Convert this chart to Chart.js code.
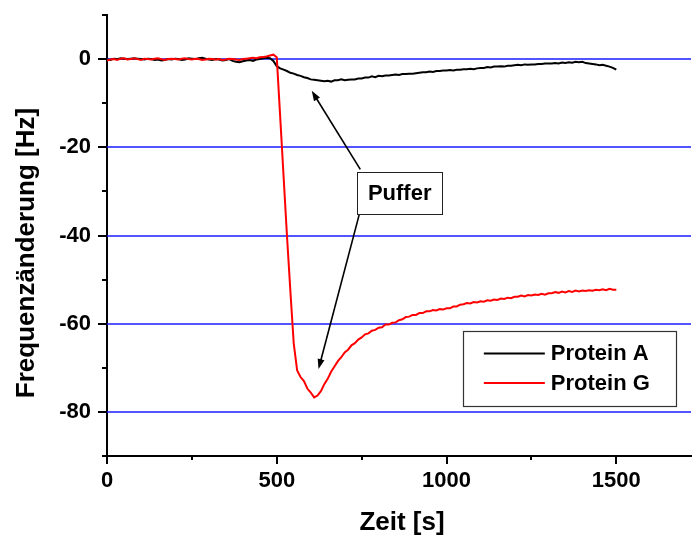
<!DOCTYPE html>
<html>
<head>
<meta charset="utf-8">
<script src="https://cdn.jsdelivr.net/npm/chart.js@4.4.1/dist/chart.umd.min.js"></script>
<style>
    body { margin: 0; background: #fff; }
    #grafico { display: block; }
</style>
</head>
<body>
<canvas id="grafico" width="692" height="541"></canvas>
<script>
// Zeit [s], Messpunkte alle 10 s
const zeit = [
    0, 10, 20, 30, 40, 50, 60, 70, 80, 90,
    100, 110, 120, 130, 140, 150, 160, 170, 180, 190,
    200, 210, 220, 230, 240, 250, 260, 270, 280, 290,
    300, 310, 320, 330, 340, 350, 360, 370, 380, 390,
    400, 410, 420, 430, 440, 450, 460, 470, 480, 490,
    500, 510, 520, 530, 540, 550, 560, 570, 580, 590,
    600, 610, 620, 630, 640, 650, 660, 670, 680, 690,
    700, 710, 720, 730, 740, 750, 760, 770, 780, 790,
    800, 810, 820, 830, 840, 850, 860, 870, 880, 890,
    900, 910, 920, 930, 940, 950, 960, 970, 980, 990,
    1000, 1010, 1020, 1030, 1040, 1050, 1060, 1070, 1080, 1090,
    1100, 1110, 1120, 1130, 1140, 1150, 1160, 1170, 1180, 1190,
    1200, 1210, 1220, 1230, 1240, 1250, 1260, 1270, 1280, 1290,
    1300, 1310, 1320, 1330, 1340, 1350, 1360, 1370, 1380, 1390,
    1400, 1410, 1420, 1430, 1440, 1450, 1460, 1470, 1480, 1490,
    1500
];

const proteinA = [
    -0.1, -0.2, 0.1, 0.0, 0.2, 0.1, 0.0, 0.1, 0.2, 0.1,
    0.0, -0.1, 0.1, 0.0, -0.2, -0.1, -0.3, -0.2, 0.0, -0.1,
    0.1, 0.0, -0.2, -0.1, 0.2, 0.1, 0.0, 0.2, 0.3, 0.1,
    -0.1, -0.2, 0.0, -0.1, -0.3, -0.2, 0.0, -0.4, -0.6, -0.7,
    -0.5, -0.3, -0.2, -0.4, -0.1, 0.0, 0.2, 0.3, 0.2, -0.4,
    -1.6, -2.1, -2.4, -2.7, -3.1, -3.3, -3.6, -3.8, -4.1, -4.3,
    -4.6, -4.7, -4.8, -4.9, -5.0, -4.9, -5.1, -4.8, -4.8, -4.6,
    -4.8, -4.7, -4.6, -4.6, -4.4, -4.4, -4.2, -4.2, -3.9, -4.1,
    -3.8, -3.9, -3.7, -3.7, -3.6, -3.5, -3.6, -3.4, -3.4, -3.3,
    -3.3, -3.2, -3.1, -3.0, -3.0, -2.8, -2.9, -2.7, -2.7, -2.6,
    -2.6, -2.5, -2.6, -2.4, -2.4, -2.3, -2.3, -2.2, -2.3, -2.1,
    -2.0, -2.0, -1.8, -1.9, -1.7, -1.7, -1.6, -1.7, -1.5, -1.5,
    -1.4, -1.3, -1.4, -1.2, -1.3, -1.2, -1.2, -1.1, -1.1, -1.0,
    -1.0, -1.0, -0.9, -1.0, -0.8, -0.9, -0.7, -0.8, -0.6, -0.7,
    -0.6, -0.9, -1.0, -1.1, -1.2, -1.4, -1.3, -1.5, -1.7, -2.0,
    -2.4
];

const proteinG = [
    -0.3, -0.1, 0.0, -0.2, 0.1, 0.2, -0.1, 0.0, 0.2, 0.0,
    -0.2, 0.1, 0.0, -0.1, 0.1, 0.2, 0.0, -0.2, 0.0, 0.1,
    0.0, -0.1, 0.1, 0.2, 0.0, -0.1, 0.1, 0.0, -0.2, -0.1,
    0.1, 0.0, -0.1, 0.0, -0.2, -0.1, 0.1, 0.0, -0.1, -0.2,
    0.0, 0.1, 0.2, 0.3, 0.2, 0.4, 0.5, 0.6, 0.8, 1.0,
    0.4, -13.0, -26.5, -40.0, -52.5, -64.5, -70.6, -72.1, -73.0, -74.7,
    -75.6, -76.7, -76.3, -75.3, -73.7, -72.5, -70.9, -69.7, -68.5, -67.6,
    -66.5, -65.9, -64.9, -64.4, -63.6, -63.1, -62.4, -62.2, -61.6, -61.4,
    -60.9, -60.8, -60.2, -60.2, -59.8, -59.7, -59.2, -59.0, -58.5, -58.4,
    -58.0, -58.0, -57.6, -57.6, -57.2, -57.2, -56.9, -57.0, -56.7, -56.8,
    -56.5, -56.5, -56.1, -56.1, -55.7, -55.6, -55.3, -55.4, -55.1, -55.2,
    -54.9, -55.0, -54.7, -54.8, -54.5, -54.6, -54.3, -54.4, -54.1, -54.2,
    -53.9, -53.9, -53.6, -53.8, -53.5, -53.6, -53.4, -53.5, -53.2, -53.4,
    -53.1, -53.1, -52.8, -53.0, -52.7, -52.9, -52.6, -52.8, -52.5, -52.7,
    -52.5, -52.6, -52.4, -52.5, -52.3, -52.4, -52.2, -52.4, -52.1, -52.3,
    -52.3
];

const legendeNamen = ['Protein A', 'Protein G'];
const legendeFarben = ['#000000', '#ff0000'];

const xTicks = [0, 500, 1000, 1500];
const yTicks = [-80, -60, -40, -20, 0];

const fonte = '"Liberation Sans", Arial, sans-serif';

function pontos(valores) {
    return zeit.map((t, i) => ({ x: t, y: valores[i] }));
}

// blaue Gitterlinien hinter den Kurven
const gitterBlau = {
    id: 'gitterBlau',
    beforeDatasetsDraw(chart) {
        const ctx = chart.ctx;
        const y = chart.scales.y;
        const area = chart.chartArea;
        ctx.save();
        ctx.strokeStyle = '#1a1aff';
        ctx.lineWidth = 1.6;
        yTicks.forEach((v) => {
            const py = Math.round(y.getPixelForValue(v));
            ctx.beginPath();
            ctx.moveTo(area.left, py);
            ctx.lineTo(area.right, py);
            ctx.stroke();
        });
        ctx.restore();
    }
};

// Achsenstriche (Haupt- und Nebenstriche), Legende und "Puffer"-Pfeile
const zeichnungExtra = {
    id: 'zeichnungExtra',
    afterDraw(chart) {
        const ctx = chart.ctx;
        const x = chart.scales.x;
        const y = chart.scales.y;
        const area = chart.chartArea;

        ctx.save();
        ctx.strokeStyle = '#000';
        ctx.lineWidth = 2;

        // y-Striche
        for (let v = -90; v <= 10; v += 10) {
            const py = Math.round(y.getPixelForValue(v));
            const len = (v % 20 === 0) ? 9 : 5;
            ctx.beginPath();
            ctx.moveTo(area.left, py);
            ctx.lineTo(area.left - len, py);
            ctx.stroke();
        }
        // x-Striche
        for (let t = 0; t <= 1500; t += 250) {
            const px = Math.round(x.getPixelForValue(t));
            const len = (t % 500 === 0) ? 8 : 4;
            ctx.beginPath();
            ctx.moveTo(px, area.bottom);
            ctx.lineTo(px, area.bottom + len);
            ctx.stroke();
        }

        // Puffer-Kasten
        const bx1 = x.getPixelForValue(737), bx2 = x.getPixelForValue(987);
        const by1 = y.getPixelForValue(-25.5), by2 = y.getPixelForValue(-35);

        function pfeil(t0, v0, t1, v1) {
            const x0 = x.getPixelForValue(t0), y0 = y.getPixelForValue(v0);
            const x1 = x.getPixelForValue(t1), y1 = y.getPixelForValue(v1);
            const ang = Math.atan2(y1 - y0, x1 - x0);
            const l = 10, w = 3.5;
            ctx.strokeStyle = '#000';
            ctx.lineWidth = 1.6;
            ctx.beginPath();
            ctx.moveTo(x0, y0);
            ctx.lineTo(x1 - Math.cos(ang) * l * 0.6, y1 - Math.sin(ang) * l * 0.6);
            ctx.stroke();
            ctx.fillStyle = '#000';
            ctx.beginPath();
            ctx.moveTo(x1, y1);
            ctx.lineTo(x1 - Math.cos(ang) * l - Math.sin(ang) * w, y1 - Math.sin(ang) * l + Math.cos(ang) * w);
            ctx.lineTo(x1 - Math.cos(ang) * l + Math.sin(ang) * w, y1 - Math.sin(ang) * l - Math.cos(ang) * w);
            ctx.closePath();
            ctx.fill();
        }
        pfeil(746, -25.0, 603, -7.2);
        pfeil(743, -35.2, 623, -70.3);

        ctx.fillStyle = '#fff';
        ctx.fillRect(bx1, by1, bx2 - bx1, by2 - by1);
        ctx.strokeStyle = '#222';
        ctx.lineWidth = 1;
        ctx.strokeRect(Math.round(bx1) + 0.5, Math.round(by1) + 0.5, Math.round(bx2 - bx1), Math.round(by2 - by1));
        ctx.fillStyle = '#000';
        ctx.font = 'bold 22px ' + fonte;
        ctx.textAlign = 'center';
        ctx.textBaseline = 'middle';
        ctx.fillText('Puffer', (bx1 + bx2) / 2, (by1 + by2) / 2 + 1);

        // Legende
        const lx1 = x.getPixelForValue(1048), lx2 = x.getPixelForValue(1674);
        const ly1 = y.getPixelForValue(-61.75), ly2 = y.getPixelForValue(-78.8);
        ctx.fillStyle = '#fff';
        ctx.fillRect(lx1, ly1, lx2 - lx1, ly2 - ly1);
        ctx.strokeStyle = '#333';
        ctx.lineWidth = 1.2;
        ctx.strokeRect(Math.round(lx1) + 0.5, Math.round(ly1) + 0.5, Math.round(lx2 - lx1), Math.round(ly2 - ly1));
        ctx.font = 'bold 22px ' + fonte;
        ctx.textAlign = 'left';
        ctx.textBaseline = 'middle';
        legendeNamen.forEach((nome, i) => {
            const yy = ly1 + 22 + i * 29.5;
            ctx.strokeStyle = legendeFarben[i];
            ctx.lineWidth = 2;
            ctx.beginPath();
            ctx.moveTo(lx1 + 21, yy);
            ctx.lineTo(lx1 + 82, yy);
            ctx.stroke();
            ctx.fillStyle = '#000';
            ctx.fillText(nome, lx1 + 88, yy + 1);
        });

        // Achsentitel
        ctx.fillStyle = '#000';
        ctx.font = 'bold 26px ' + fonte;
        ctx.textAlign = 'center';
        ctx.textBaseline = 'alphabetic';
        ctx.fillText('Zeit [s]', 402, 530);
        ctx.save();
        ctx.translate(34, 253);
        ctx.rotate(-Math.PI / 2);
        ctx.fillText('Frequenzänderung [Hz]', 0, 0);
        ctx.restore();

        ctx.restore();
    }
};

let data = {
    datasets: [
        {
            label: legendeNamen[1],
            data: pontos(proteinG),
            borderColor: legendeFarben[1],
            backgroundColor: legendeFarben[1],
            borderWidth: 2,
            pointRadius: 0,
            tension: 0,
            order: 0
        },
        {
            label: legendeNamen[0],
            data: pontos(proteinA),
            borderColor: legendeFarben[0],
            backgroundColor: legendeFarben[0],
            borderWidth: 2,
            pointRadius: 0,
            tension: 0,
            order: 1
        }
    ]
};

let options = {
    responsive: false,
    animation: false,
    layout: {
        padding: { top: 15, right: 1, left: 0, bottom: 0 }
    },
    plugins: {
        legend: { display: false },
        tooltip: { enabled: false }
    },
    scales: {
        x: {
            type: 'linear',
            min: 0,
            max: 1720,
            afterFit(scale) {
                scale.height = 85;
                scale.paddingLeft = 0;
                scale.paddingRight = 0;
            },
            afterBuildTicks(scale) { scale.ticks = xTicks.map((v) => ({ value: v })); },
            border: { display: true, color: '#000', width: 2 },
            grid: { display: true, drawOnChartArea: false, drawTicks: false },
            ticks: {
                padding: 12,
                color: '#000',
                font: { family: fonte, size: 22, weight: 'bold' },
                maxRotation: 0,
                callback: (v) => String(v)
            }
        },
        y: {
            type: 'linear',
            min: -90,
            max: 10,
            afterFit(scale) {
                scale.width = 107;
                scale.paddingTop = 0;
                scale.paddingBottom = 0;
            },
            afterBuildTicks(scale) { scale.ticks = yTicks.map((v) => ({ value: v })); },
            border: { display: true, color: '#000', width: 2 },
            grid: { display: true, drawOnChartArea: false, drawTicks: false },
            ticks: {
                padding: 16,
                color: '#000',
                font: { family: fonte, size: 22, weight: 'bold' },
                callback: (v) => String(v)
            }
        }
    }
};

new Chart(document.getElementById('grafico'), {
    type: 'line',
    data: data,
    options: options,
    plugins: [gitterBlau, zeichnungExtra]
});
</script>
</body>
</html>
